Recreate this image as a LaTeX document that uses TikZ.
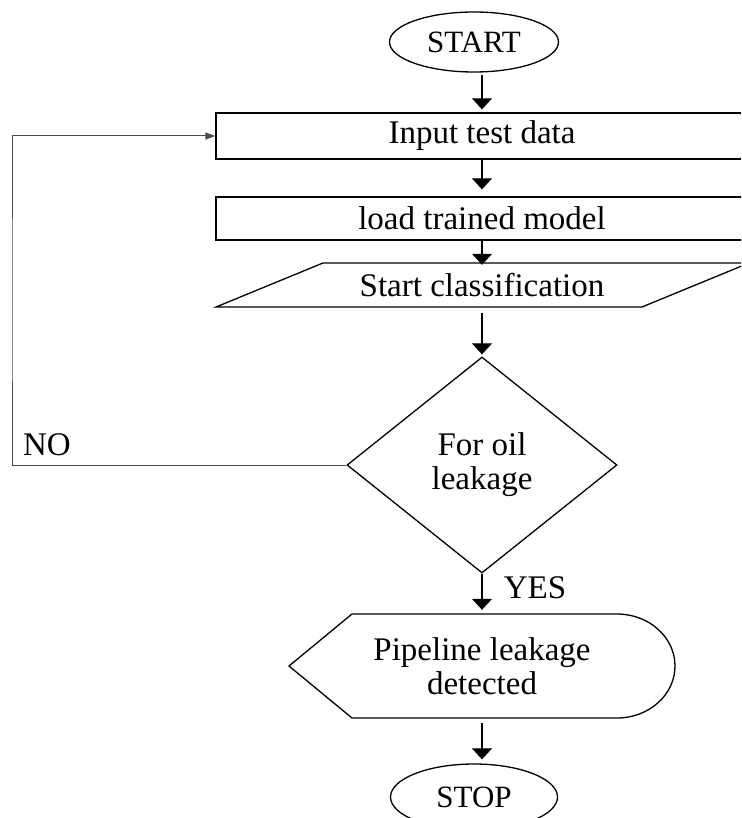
\documentclass[tikz,border=0pt]{standalone}
\usepackage{fontspec}
\setmainfont{Liberation Serif}
\usetikzlibrary{shapes.geometric, arrows.meta}
\begin{document}
\begin{tikzpicture}[x=1pt,y=-1pt,
  every node/.style={font=\fontsize{33}{34}\selectfont},
  shp/.style={draw, line width=1.3pt},
  arr/.style={line width=1.2pt, -{Triangle[width=20pt,length=11pt]}},
  looparr/.style={line width=1pt, draw=black!70, -{Triangle[width=7pt,length=10pt]}},
  term/.style={ellipse, shp, inner sep=0pt, font=\fontsize{31}{32}\selectfont},
  procbox/.style={rectangle, shp, inner sep=0pt},
  txt/.style={inner sep=0pt, align=center}]
\useasboundingbox (0,0) rectangle (741,818);
\clip (0,0) rectangle (741,818);

\coordinate (col) at (482,0);

\node[term, minimum width=169, minimum height=60] (start) at (474,42) {START};
\node[procbox, minimum width=532, minimum height=46] (inp) at (482,136) {Input test data};
\node[procbox, minimum width=532, minimum height=43] (load) at (482,218.5) {load trained model};

\node[txt, minimum width=426, minimum height=44] (cls) at (482,285) {Start classification};
\draw[shp] (216,307) -- (323,263) -- (749,263) -- (642,307) -- cycle;

\node[diamond, shp, minimum width=270, minimum height=216, inner sep=0pt, align=center] (dec) at (482,465) {For oil\\leakage};

\node[txt, minimum width=386, minimum height=104] (disp) at (482,666) {Pipeline leakage\\detected};
\draw[shp] (289,666) -- (352,614) -- (617,614) arc[start angle=-90,end angle=90,x radius=58,y radius=52] -- (352,718) -- cycle;

\node[term, minimum width=167, minimum height=66] (stop) at (474,797) {STOP};

\node[txt] (yes) at (535,588) {YES};
\node[txt] (no) at (47,445) {NO};

\draw[arr, shorten <=2pt, shorten >=3pt] (start.south -| col) -- (inp.north -| col);
\draw[arr, shorten >=7pt] (inp.south -| col) -- (load.north -| col);
\draw[arr, shorten >=-2pt] (load.south -| col) -- (cls.north -| col);
\draw[arr, shorten <=6pt, shorten >=2pt] (cls.south -| col) -- (dec.north -| col);
\draw[arr, shorten >=4pt] (dec.south -| col) -- (disp.north -| col);
\draw[arr, shorten <=5pt, shorten >=4pt] (disp.south -| col) -- (stop.north -| col);

\coordinate (lpc) at (12,300);
\draw[looparr] (dec.west) -| (lpc) |- (inp.west);
\end{tikzpicture}
\end{document}
